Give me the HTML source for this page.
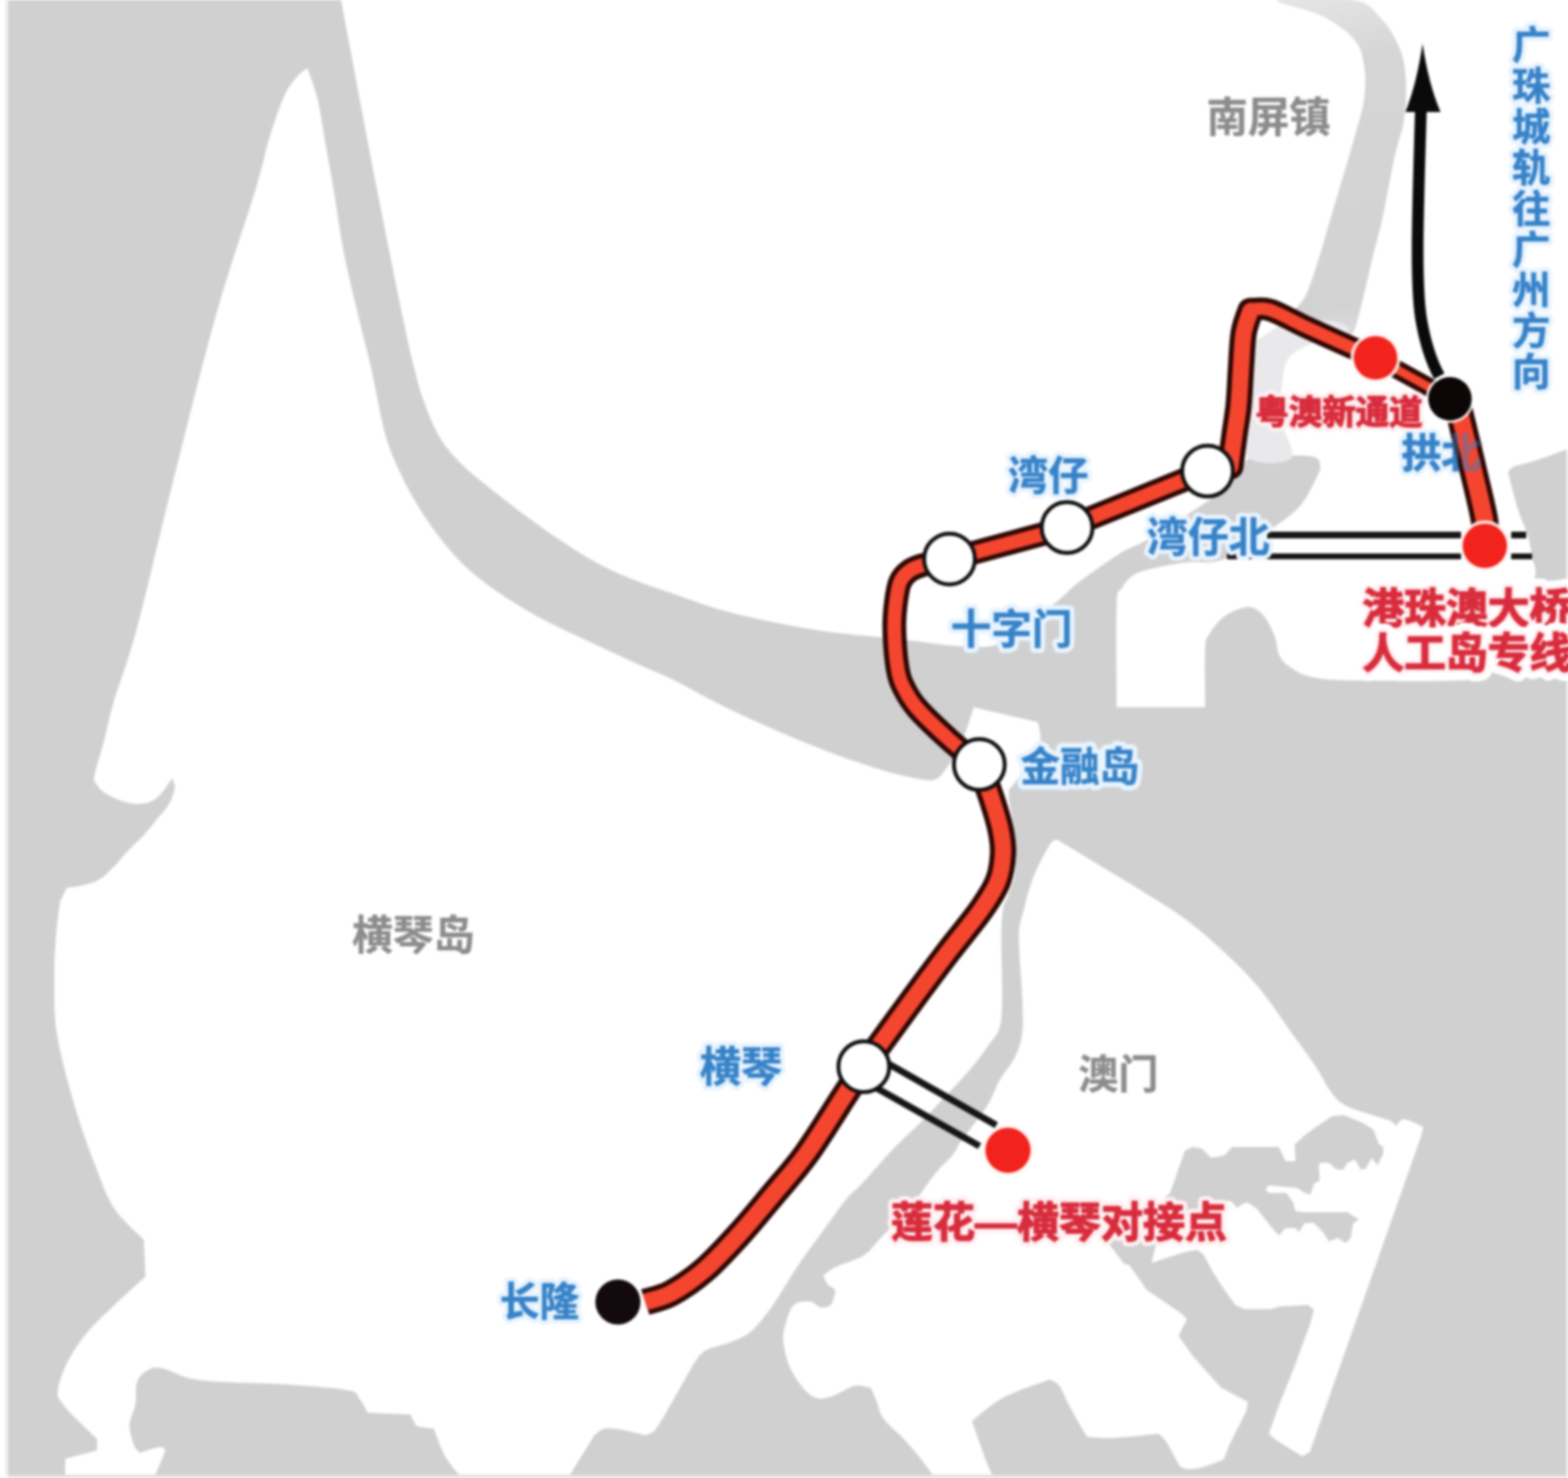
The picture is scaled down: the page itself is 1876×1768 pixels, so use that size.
<!DOCTYPE html>
<html lang="zh"><head><meta charset="utf-8"><title>珠海城轨延长线示意图</title>
<style>
html,body{margin:0;padding:0;background:#fff}
body{width:1876px;height:1768px;overflow:hidden;font-family:"Liberation Sans","Noto Sans CJK SC",sans-serif}
svg{display:block;font-family:"Liberation Sans","Noto Sans CJK SC",sans-serif;font-weight:bold}
</style></head><body>
<svg width="1876" height="1768" viewBox="0 0 1876 1768" role="img" aria-label="珠海城轨延长线示意图">
<defs>
<filter id="soft" color-interpolation-filters="sRGB" filterUnits="userSpaceOnUse" x="0" y="0" width="1876" height="1768"><feGaussianBlur stdDeviation="1.45"/></filter>
<linearGradient id="rv" gradientUnits="userSpaceOnUse" x1="1560" y1="0" x2="1640" y2="400"><stop offset="0" stop-color="#e4e4e4"/><stop offset=".2" stop-color="#d5d5d5"/><stop offset=".9" stop-color="#d2d2d2"/><stop offset="1" stop-color="#dcdce0"/></linearGradient>
</defs>
<g filter="url(#soft)">
<rect width="1876" height="1768" fill="#fff"/>
<rect x="6" y="0" width="5" height="1764" fill="#eee"/>
<rect x="10" y="0" width="1864" height="1764" fill="#d0d0d0"/>
<rect x="10" y="1764" width="1866" height="4" fill="#e2e2e2"/>
<rect x="6" y="1764" width="4" height="4" fill="#f4f4f4"/>
<rect x="1874" y="537" width="2" height="1231" fill="#ececec"/>
<g fill="#fff">
<path d="M368 82C369.3 85.8 373.7 97.3 376 105C378.3 112.7 379.7 116.3 382 128C384.3 139.7 387.2 158.7 390 175C392.8 191.3 395.5 205.2 399 226C402.5 246.8 406.2 275.2 411 300C415.8 324.8 422.5 351.7 428 375C433.5 398.3 438.5 415.8 444 440C449.5 464.2 455.2 499 461 520C466.8 541 472.5 551.8 479 566C485.5 580.2 492.2 592.2 500 605C507.8 617.8 517.3 631.7 526 643C534.7 654.3 543 664 552 673C561 682 570 689.3 580 697C590 704.7 601.3 712.2 612 719C622.7 725.8 633.3 732.2 644 738C654.7 743.8 663.5 748 676 754C688.5 760 704.7 767.3 719 774C733.3 780.7 747.7 787.5 762 794C776.3 800.5 788 804.7 805 813C822 821.3 843.3 833.8 864 844C884.7 854.2 907.5 864.7 929 874C950.5 883.3 971.5 892 993 900C1014.5 908 1040 916.7 1058 922C1076 927.3 1090.7 930.3 1101 932C1111.3 933.7 1114.7 934.3 1120 932C1125.3 929.7 1128 925 1133 918C1138 911 1144.7 902 1150 890C1155.3 878 1162.5 853.3 1165 846L1242 864C1242.2 868.7 1247.5 880.2 1243 892C1238.5 903.8 1221 925.3 1215 935C1209 944.7 1207.3 940.5 1207 950C1206.7 959.5 1211.7 977 1213 992C1214.3 1007 1216 1027.2 1215 1040C1214 1052.8 1209.5 1061 1207 1069C1204.5 1077 1201.5 1079.5 1200 1088C1198.5 1096.5 1198.2 1102.7 1198 1120C1197.8 1137.3 1199.3 1173.8 1199 1192C1198.7 1210.2 1198.7 1219.3 1196 1229C1193.3 1238.7 1188.2 1242.5 1183 1250C1177.8 1257.5 1172 1265.5 1165 1274C1158 1282.5 1151.7 1289.5 1141 1301C1130.3 1312.5 1113 1330.8 1101 1343C1089 1355.2 1080.3 1362.2 1069 1374C1057.7 1385.8 1042.3 1404 1033 1414C1023.7 1424 1020.2 1425.5 1013 1434C1005.8 1442.5 999.5 1452 990 1465C980.5 1478 965.3 1498.3 956 1512C946.7 1525.7 940.5 1537 934 1547C927.5 1557 923.2 1564.2 917 1572C910.8 1579.8 904.3 1588.3 897 1594C889.7 1599.7 882 1602.3 873 1606C864 1609.7 850.3 1611.5 843 1616C835.7 1620.5 831.3 1630.2 829 1633C825.3 1639.5 814.3 1659.3 807 1672C799.7 1684.7 790.8 1701.5 785 1709C779.2 1716.5 774.2 1715.7 772 1717C767.2 1715.8 751.2 1711.3 743 1710C734.8 1708.7 728.3 1707.8 723 1709C717.7 1710.2 713 1715.7 711 1717L682 1764L78 1764L78 1745L116 1735L116 1721C110.7 1715.8 91.8 1698.3 84 1690C76.2 1681.7 71.5 1674.2 69 1671C69.3 1668.2 68.7 1661.7 71 1654C73.3 1646.3 77.3 1635.2 83 1625C88.7 1614.8 96 1603.7 105 1593C114 1582.3 125.5 1572 137 1561C148.5 1550 167.8 1532.7 174 1527L172 1483C166.2 1476.8 146.5 1460.3 137 1446C127.5 1431.7 123 1417.7 115 1397C107 1376.3 96.8 1348.8 89 1322C81.2 1295.2 72 1261.7 68 1236C64 1210.3 65.2 1187.3 65 1168C64.8 1148.7 66.3 1131.3 67 1120C67.7 1108.7 68.2 1107 69 1100C69.8 1093 71.5 1081.7 72 1078L80 1062C83.2 1061.5 92.5 1060.7 99 1059C105.5 1057.3 112.8 1055.7 119 1052C125.2 1048.3 130 1043 136 1037C142 1031 149 1022.3 155 1016C161 1009.7 166.7 1004.8 172 999C177.3 993.2 182 987.2 187 981C192 974.8 198.3 968.3 202 962C205.7 955.7 208.3 948.2 209 943C209.7 937.8 206.5 933 206 931C203.8 934 197.3 944.3 193 949C188.7 953.7 185.3 956.9 180 959C174.7 961.1 167.7 962 161 961.5C154.3 961 146.5 958.6 140 956C133.5 953.4 126.7 949.8 122 946C117.3 942.2 113.7 935.2 112 933C112.7 930.2 113.8 924.2 116 916C118.2 907.8 121.7 896.7 125 884C128.3 871.3 129.5 862.2 136 840C142.5 817.8 152.3 794.3 164 751C175.7 707.7 190.2 642.7 206 580C221.8 517.3 242.3 434 259 375C275.7 316 295.5 260.8 306 226C316.5 191.2 316.3 184.5 322 166C327.7 147.5 334.2 127.7 340 115C345.8 102.3 352.3 95.5 357 90C361.7 84.5 366.2 83.3 368 82Z"/>
<path d="M408 0C415.2 37.7 438.7 162.7 451 226C463.3 289.3 474.7 344.7 482 380C489.3 415.3 490.8 421.3 495 438C499.2 454.7 501.8 465.8 507 480C512.2 494.2 518.5 510.5 526 523C533.5 535.5 541.3 544.3 552 555C562.7 565.7 576.5 576.2 590 587C603.5 597.8 618.7 609.5 633 620C647.3 630.5 661.7 640.7 676 650C690.3 659.3 704.7 668.5 719 676C733.3 683.5 747.7 689.3 762 695C776.3 700.7 788 704.2 805 710C822 715.8 843.3 724.2 864 730C884.7 735.8 907.5 740.7 929 745C950.5 749.3 972.7 753.2 993 756C1013.3 758.8 1035.2 760.3 1051 762C1066.8 763.7 1071.2 764.2 1088 766C1104.8 767.8 1133.3 772.7 1152 773C1170.7 773.3 1181.3 776.8 1200 768C1218.7 759.2 1249 731.8 1264 720C1279 708.2 1277.3 706.7 1290 697C1302.7 687.3 1326.7 670.3 1340 662C1353.3 653.7 1356.2 655 1370 647C1383.8 639 1407.2 624.3 1423 614C1438.8 603.7 1455.2 593.2 1465 585C1474.8 576.8 1477.5 570.8 1482 565C1486.5 559.2 1488.5 553.2 1492 550C1495.5 546.8 1501.2 546.7 1503 546C1514.2 546 1557.2 543.5 1570 546C1582.8 548.5 1578.3 558.5 1580 561C1576.3 567.8 1567.2 590.5 1558 602C1548.8 613.5 1540.7 618.8 1525 630C1509.3 641.2 1482 661.8 1464 669C1446 676.2 1434 670.3 1417 673C1400 675.7 1374.5 679.8 1362 685C1349.5 690.2 1346.3 697.5 1342 704C1337.7 710.5 1337 700.3 1336 724C1335 747.7 1336 825.7 1336 846L1442 846C1442 834.2 1441 789.8 1442 775C1443 760.2 1444.3 763.2 1448 757C1451.7 750.8 1458 742.8 1464 738C1470 733.2 1478.2 729.8 1484 728C1489.8 726.2 1494.2 725.3 1499 727C1503.8 728.7 1508.7 732.3 1513 738C1517.3 743.7 1522 753.2 1525 761C1528 768.8 1527.7 778.7 1531 785C1534.3 791.3 1538.5 794.8 1545 799C1551.5 803.2 1557.5 807.5 1570 810C1582.5 812.5 1588 813.5 1620 814C1652 814.5 1735 815.7 1762 813C1789 810.3 1775.7 806.8 1782 798C1788.3 789.2 1791.2 777.3 1800 760C1808.8 742.7 1829.5 709.5 1835 694C1840.5 678.5 1834.2 675.8 1833 667C1831.8 658.2 1830.7 650.2 1828 641C1825.3 631.8 1820.7 623.5 1817 612C1813.3 600.5 1808 580 1806 572C1804 564 1804.2 566.3 1805 564C1805.8 561.7 1808.7 559.3 1811 558C1813.3 556.7 1814.2 557.3 1819 556C1823.8 554.7 1830.5 553.2 1840 550C1849.5 546.8 1870 539.2 1876 537L1876 0L408 0Z"/>
<path d="M1264 1004C1272.8 1009.3 1299.7 1025.5 1317 1036C1334.3 1046.5 1351 1056.3 1368 1067C1385 1077.7 1402 1087.2 1419 1100C1436 1112.8 1455 1129.8 1470 1144C1485 1158.2 1496.2 1169.3 1509 1185C1521.8 1200.7 1536.3 1223.2 1547 1238C1557.7 1252.8 1565.3 1262.5 1573 1274C1580.7 1285.5 1586.7 1298.8 1593 1307C1599.3 1315.2 1601.7 1318.2 1611 1323C1620.3 1327.8 1640.2 1333 1649 1336C1657.8 1339 1660.5 1339.2 1664 1341C1667.5 1342.8 1669 1346 1670 1347C1671.7 1345.7 1674.5 1338.8 1680 1339C1685.5 1339.2 1699.2 1346.5 1703 1348L1700 1360L1567 1737L1558 1742C1553.2 1739 1535.7 1728.5 1529 1724C1522.3 1719.5 1519.8 1716.5 1518 1715L1464 1746C1459.2 1747.7 1443.2 1754.3 1435 1756C1426.8 1757.7 1419.8 1758 1415 1756C1410.2 1754 1409.3 1749.3 1406 1744C1402.7 1738.7 1398.3 1728.8 1395 1724C1391.7 1719.2 1387.5 1716.5 1386 1715C1377.3 1715.8 1348.2 1719.3 1334 1720C1319.8 1720.7 1306.5 1719.2 1301 1719C1299.2 1716 1293.8 1707.7 1290 1701C1286.2 1694.3 1281.8 1686.3 1278 1679C1274.2 1671.7 1270.7 1661.8 1267 1657C1263.3 1652.2 1257.8 1651.2 1256 1650C1246.7 1653.7 1215.5 1663.7 1200 1672C1184.5 1680.3 1169.2 1695.3 1163 1700C1165.8 1708 1176 1737.3 1180 1748C1184 1758.700 1185.800 1761.300 1187 1764L1116 1764C1113.3 1760.5 1105.8 1750.2 1100 1743C1094.2 1735.8 1088.2 1728.7 1081 1721C1073.8 1713.3 1062.3 1704.3 1057 1697C1051.7 1689.7 1051.5 1683.2 1049 1677C1046.5 1670.8 1043.2 1662.8 1042 1660C1038.7 1659.7 1029.7 1656.3 1022 1658C1014.3 1659.7 1003.7 1667.7 996 1670C988.3 1672.3 982.2 1674 976 1672C969.8 1670 964.3 1664.5 959 1658C953.7 1651.5 947.7 1642.5 944 1633C940.3 1623.5 937.3 1610.3 937 1601C936.7 1591.7 939.7 1583.8 942 1577C944.3 1570.2 946.5 1563.3 951 1560C955.5 1556.7 964 1556.3 969 1557C974 1557.7 979 1562.8 981 1564C983 1563.7 990.2 1564.2 993 1562C995.8 1559.8 997 1554.2 998 1551C999 1547.8 1000.3 1545.5 999 1543C997.7 1540.5 992.3 1538.8 990 1536C987.7 1533.2 985.8 1527.7 985 1526C987.3 1524.3 991 1520 999 1516C1007 1512 1024.5 1507.2 1033 1502C1041.5 1496.8 1042.5 1492.8 1050 1485C1057.5 1477.2 1069.8 1464 1078 1455C1086.2 1446 1092.3 1439.3 1099 1431C1105.7 1422.7 1111 1413.5 1118 1405C1125 1396.5 1135.7 1386.7 1141 1380C1146.3 1373.3 1143.3 1374.5 1150 1365C1156.7 1355.5 1173.3 1335.2 1181 1323C1188.7 1310.8 1190.5 1301.7 1196 1292C1201.5 1282.3 1209.5 1274.3 1214 1265C1218.5 1255.7 1221.5 1248.2 1223 1236C1224.5 1223.8 1223.7 1211.3 1223 1192C1222.3 1172.7 1218.7 1137.3 1219 1120C1219.3 1102.7 1222.2 1099.7 1225 1088C1227.8 1076.3 1231 1062.7 1236 1050C1241 1037.3 1250.3 1019.7 1255 1012C1259.7 1004.3 1262.5 1005.3 1264 1004Z"/>
</g>
<g fill="#d0d0d0">
<path d="M186 1764L198 1735C196.8 1734.3 196.2 1730.5 191 1731C185.8 1731.5 171 1736.8 167 1738C165.8 1736.3 162 1733.7 160 1728C158 1722.3 154.7 1712 155 1704C155.3 1696 160.5 1688.5 162 1680C163.5 1671.5 161.5 1659.8 164 1653C166.5 1646.2 171.8 1641.7 177 1639C182.2 1636.3 184.7 1635 195 1637C205.3 1639 214.7 1647.8 239 1651C263.3 1654.2 311.5 1654 341 1656C370.5 1658 401.2 1660.2 416 1663C430.8 1665.8 426 1668.5 430 1673C434 1677.5 438.3 1687.2 440 1690L491 1692L498 1706L519 1709C521.2 1714.3 527 1731.8 532 1741C537 1750.2 546.2 1760.2 549 1764L186 1764Z"/>
<path d="M1418 1376L1427 1372L1438 1374L1449 1385L1465 1382L1474 1372L1530 1372L1538 1389L1550 1389L1549 1369L1561 1358L1579 1345L1594 1335L1608 1334L1630 1343L1643 1351L1650 1369L1655 1372L1655 1380L1648 1394L1641 1385L1634 1398L1628 1399L1621 1387L1612 1391L1607 1399L1599 1399L1590 1391L1579 1391L1578 1396L1579 1412L1572 1416L1568 1429L1561 1427L1552 1421L1518 1418L1514 1423L1518 1427L1539 1427L1547 1438L1550 1449L1561 1450L1612 1450L1626 1459L1619 1463L1616 1481L1610 1487L1601 1481L1590 1485L1583 1474L1572 1463L1561 1463L1554 1474L1550 1469L1538 1469L1530 1478L1523 1470L1514 1459L1503 1445L1492 1438L1485 1441L1480 1445L1474 1438L1469 1436L1440 1440L1400 1427Z"/>
<path d="M1331 1485L1372 1511L1380 1510L1416 1498L1433 1495L1440 1501L1452 1523L1465 1543L1478 1561L1489 1566L1521 1566L1530 1563L1565 1561L1572 1567L1567 1585L1549 1634L1531 1679L1518 1715L1500 1764L1464 1764L1464 1746L1471 1728L1491 1688L1493 1677L1461 1660L1427 1622L1410 1598L1420 1578L1413 1571L1372 1543Z"/>
<path d="M1418 1376L1400 1427L1352 1470L1326 1487L1345 1512L1376 1517L1385 1482L1420 1452L1469 1436L1440 1400Z"/>
</g>
<path d="M1528 0C1521.7 3.2 1566.7 11.2 1582 19C1597.3 26.8 1611.7 37.2 1620 47C1628.3 56.8 1630 66 1632 78C1634 90 1634 104.3 1632 119C1630 133.7 1624.3 150.2 1620 166C1615.7 181.8 1610.7 198.2 1606 214C1601.3 229.8 1596.7 245.2 1592 261C1587.3 276.8 1582.8 293.8 1578 309C1573.2 324.2 1568.5 339.3 1563 352C1557.5 364.7 1538.8 377 1545 385C1551.2 393 1587.8 397.7 1600 400C1612.2 402.3 1613.3 404.3 1618 399C1622.7 393.7 1624 383 1628 368C1632 353 1637.7 326.8 1642 309C1646.3 291.2 1649.7 280.8 1654 261C1658.3 241.2 1663.7 209.8 1668 190C1672.3 170.2 1677.7 157.8 1680 142C1682.3 126.2 1682.8 108.8 1682 95C1681.2 81.2 1679.7 70.8 1675 59C1670.3 47.2 1663.2 33.8 1654 24C1644.8 14.2 1641 4 1620 0C1599 -4 1534.3 -3.2 1528 0Z" fill="url(#rv)"/>
<path d="M1545 385C1530.3 387.8 1519.7 396.2 1512 402C1504.3 407.8 1501.7 403.7 1499 420C1496.3 436.3 1496.8 478.7 1496 500C1495.2 521.3 1485.8 540 1494 548C1502.2 556 1538.7 556 1545 548C1551.3 540 1533.8 514.7 1532 500C1530.2 485.3 1532.3 472 1534 460C1535.7 448 1535.7 436.3 1542 428C1548.3 419.7 1560.3 415 1572 410C1583.7 405 1607.3 402.2 1612 398C1616.7 393.8 1611.2 387.2 1600 385C1588.8 382.800 1559.700 382.200 1545 385Z" fill="#e9e9ec"/>
<g>
<text x="1677" y="559" font-size="47.5" textLength="95" fill="none" stroke="#e8f4ff" stroke-width="11" stroke-linejoin="round">拱北</text>
<text x="1677" y="559" font-size="47.5" textLength="95" fill="#3682c8" stroke="#3682c8" stroke-width="0.7" stroke-linejoin="round">拱北</text>
</g>
<g stroke="#151515" fill="none">
<path d="M1516 640H1748M1808 640H1826" stroke-width="8"/>
<path d="M1468 665.5H1748M1808 665.5H1833" stroke-width="7"/>
<path d="M1062 1272L1192 1346M1046 1300L1172 1371" stroke-width="8"/>
</g>
<path d="M1700 130C1697 238 1693 333 1700 380C1704 404 1711 430 1722 450" fill="none" stroke="#0a0a0a" stroke-width="14"/>
<path d="M1702 52Q1695 100 1681.500 134H1723.500Q1709 100 1702 52Z" fill="#0a0a0a"/>
<path d="M772 1557.5C777.2 1555.8 791.2 1553.4 803 1547C814.8 1540.6 829.5 1530.7 843 1519C856.5 1507.3 870.5 1491.8 884 1477C897.5 1462.2 910.5 1446.2 924 1430C937.5 1413.8 950.7 1399.8 965 1380C979.3 1360.2 998.7 1328.3 1010 1311C1021.3 1293.7 1029.2 1281.8 1033 1276" fill="none" stroke="#2e0804" stroke-width="32.0" stroke-linejoin="round"/>
<path d="M1033 1276C1037.2 1270.3 1047.5 1256.3 1058 1242C1068.5 1227.7 1083.2 1207.3 1096 1190C1108.8 1172.7 1122 1155 1135 1138C1148 1121 1164.2 1102 1174 1088C1183.8 1074 1189.7 1065.2 1194 1054C1198.3 1042.8 1199.5 1031.3 1200 1021C1200.5 1010.7 1199.3 1003.2 1197 992C1194.7 980.8 1190.2 966.8 1186 954C1181.8 941.2 1174.3 921.5 1172 915" fill="none" stroke="#2e0804" stroke-width="31.5" stroke-linejoin="round"/>
<path d="M1172 915C1166 910 1148.3 896.2 1136 885C1123.7 873.8 1107 858.2 1098 848C1089 837.8 1086 832 1082 824C1078 816 1076 812 1074 800C1072 788 1070.3 765.3 1070 752C1069.7 738.7 1070.8 729.3 1072 720C1073.2 710.7 1074.3 702.2 1077 696C1079.7 689.8 1083.5 686.3 1088 683C1092.5 679.7 1096 678.3 1104 676C1112 673.7 1130.7 670.2 1136 669" fill="none" stroke="#2e0804" stroke-width="28.5" stroke-linejoin="round"/>
<path d="M1136 669L1277 631" fill="none" stroke="#2e0804" stroke-width="28.5" stroke-linejoin="round"/>
<path d="M1277 631L1444 563" fill="none" stroke="#2e0804" stroke-width="28.5" stroke-linejoin="round"/>
<path d="M1472 558C1472.8 551.7 1475.3 532.3 1477 520C1478.7 507.7 1480.7 498 1482 484C1483.3 470 1484 450.7 1485 436C1486 421.3 1486 407 1488 396C1490 385 1495.5 374.3 1497 370C1500.8 370.2 1509.5 367.7 1520 371C1530.5 374.3 1544.5 382.8 1560 390C1575.5 397.2 1598.7 407.7 1613 414C1627.3 420.3 1640.5 425.7 1646 428" fill="none" stroke="#2e0804" stroke-width="27.0" stroke-linejoin="round"/>
<path d="M1472 558C1472.8 551.7 1475.3 532.3 1477 520C1478.7 507.7 1480.7 498 1482 484C1483.3 470 1484 450.3 1485 436C1486 421.7 1486.2 408.7 1488 398C1489.8 387.3 1494.7 376.3 1496 372" fill="none" stroke="#2e0804" stroke-width="31.5" stroke-linejoin="round" stroke-linecap="round"/>
<path d="M1646 428L1735 477" fill="none" stroke="#2e0804" stroke-width="22.0" stroke-linejoin="round"/>
<path d="M1742 477C1743.2 481.7 1745.7 491.2 1749 505C1752.3 518.8 1757.5 540.5 1762 560C1766.5 579.5 1773.5 606.7 1776 622C1778.5 637.3 1776.8 647 1777 652" fill="none" stroke="#2e0804" stroke-width="33.0" stroke-linejoin="round"/>
<path d="M772 1557.5C777.2 1555.8 791.2 1553.4 803 1547C814.8 1540.6 829.5 1530.7 843 1519C856.5 1507.3 870.5 1491.8 884 1477C897.5 1462.2 910.5 1446.2 924 1430C937.5 1413.8 950.7 1399.8 965 1380C979.3 1360.2 998.7 1328.3 1010 1311C1021.3 1293.7 1029.2 1281.8 1033 1276" fill="none" stroke="#f4452f" stroke-width="20.0" stroke-linejoin="round"/>
<path d="M1033 1276C1037.2 1270.3 1047.5 1256.3 1058 1242C1068.5 1227.7 1083.2 1207.3 1096 1190C1108.8 1172.7 1122 1155 1135 1138C1148 1121 1164.2 1102 1174 1088C1183.8 1074 1189.7 1065.2 1194 1054C1198.3 1042.8 1199.5 1031.3 1200 1021C1200.5 1010.7 1199.3 1003.2 1197 992C1194.7 980.8 1190.2 966.8 1186 954C1181.8 941.2 1174.3 921.5 1172 915" fill="none" stroke="#f4452f" stroke-width="19.5" stroke-linejoin="round"/>
<path d="M1172 915C1166 910 1148.3 896.2 1136 885C1123.7 873.8 1107 858.2 1098 848C1089 837.8 1086 832 1082 824C1078 816 1076 812 1074 800C1072 788 1070.3 765.3 1070 752C1069.7 738.7 1070.8 729.3 1072 720C1073.2 710.7 1074.3 702.2 1077 696C1079.7 689.8 1083.5 686.3 1088 683C1092.5 679.7 1096 678.3 1104 676C1112 673.7 1130.7 670.2 1136 669" fill="none" stroke="#f4452f" stroke-width="16.5" stroke-linejoin="round"/>
<path d="M1136 669L1277 631" fill="none" stroke="#f4452f" stroke-width="16.5" stroke-linejoin="round"/>
<path d="M1277 631L1444 563" fill="none" stroke="#f4452f" stroke-width="16.5" stroke-linejoin="round"/>
<path d="M1472 558C1472.8 551.7 1475.3 532.3 1477 520C1478.7 507.7 1480.7 498 1482 484C1483.3 470 1484 450.7 1485 436C1486 421.3 1486 407 1488 396C1490 385 1495.5 374.3 1497 370C1500.8 370.2 1509.5 367.7 1520 371C1530.5 374.3 1544.5 382.8 1560 390C1575.5 397.2 1598.7 407.7 1613 414C1627.3 420.3 1640.5 425.7 1646 428" fill="none" stroke="#f4452f" stroke-width="15.0" stroke-linejoin="round"/>
<path d="M1472 558C1472.8 551.7 1475.3 532.3 1477 520C1478.7 507.7 1480.7 498 1482 484C1483.3 470 1484 450.3 1485 436C1486 421.7 1486.2 408.7 1488 398C1489.8 387.3 1494.7 376.3 1496 372" fill="none" stroke="#f4452f" stroke-width="19.5" stroke-linejoin="round" stroke-linecap="round"/>
<path d="M1646 428L1735 477" fill="none" stroke="#f4452f" stroke-width="10.0" stroke-linejoin="round"/>
<path d="M1742 477C1743.2 481.7 1745.7 491.2 1749 505C1752.3 518.8 1757.5 540.5 1762 560C1766.5 579.5 1773.5 606.7 1776 622C1778.5 637.3 1776.8 647 1777 652" fill="none" stroke="#f4452f" stroke-width="21.0" stroke-linejoin="round"/>
<circle cx="1033.5" cy="1276" r="30.4" fill="#fff" stroke="#101010" stroke-width="4.7"/>
<circle cx="1171.7" cy="914.5" r="30.4" fill="#fff" stroke="#101010" stroke-width="4.7"/>
<circle cx="1136" cy="668.7" r="30.4" fill="#fff" stroke="#101010" stroke-width="4.7"/>
<circle cx="1276.7" cy="631" r="30.4" fill="#fff" stroke="#101010" stroke-width="4.7"/>
<circle cx="1444.7" cy="563.5" r="30.4" fill="#fff" stroke="#101010" stroke-width="4.7"/>
<circle cx="739.3" cy="1557.5" r="30" fill="#fff" opacity=".9"/><circle cx="739.3" cy="1557.5" r="27" fill="#120a0c"/>
<circle cx="1734.8" cy="477" r="29" fill="#fff" opacity=".9"/><circle cx="1734.8" cy="477" r="26" fill="#0c0606"/>
<circle cx="1645.7" cy="428" r="30" fill="#fff4f2" opacity=".9"/><circle cx="1645.7" cy="428" r="26" fill="#f2221c"/>
<circle cx="1776.5" cy="653" r="30.5" fill="#fff4f2" opacity=".9"/><circle cx="1776.5" cy="653" r="26.5" fill="#f2221c"/>
<circle cx="1206" cy="1376" r="31" fill="#fff4f2" opacity=".9"/><circle cx="1206" cy="1376" r="27" fill="#f2221c"/>
<g opacity="0.45">
<text x="1677" y="559" font-size="47.5" textLength="95" fill="#3682c8" stroke="#3682c8" stroke-width="1.6" stroke-linejoin="round">拱北</text>
</g>
<g>
<text x="1443.5" y="157.5" font-size="49.5" textLength="148.5" fill="none" stroke="#fff" stroke-width="8" stroke-linejoin="round">南屏镇</text>
<text x="1443.5" y="157.5" font-size="49.5" textLength="148.5" fill="#8b8b8b" stroke="#8b8b8b" stroke-width="0.3" stroke-linejoin="round">南屏镇</text>
</g>
<g>
<text font-size="46" text-anchor="middle" fill="none" stroke="#e8f4ff" stroke-width="11" stroke-linejoin="round"><tspan x="1832" y="70">广</tspan><tspan x="1832" y="119">珠</tspan><tspan x="1832" y="168">城</tspan><tspan x="1832" y="217">轨</tspan><tspan x="1832" y="266">往</tspan><tspan x="1832" y="315">广</tspan><tspan x="1832" y="363">州</tspan><tspan x="1832" y="412">方</tspan><tspan x="1832" y="461">向</tspan></text>
<text font-size="46" text-anchor="middle" fill="#3682c8" stroke="#3682c8" stroke-width="0.7" stroke-linejoin="round"><tspan x="1832" y="70">广</tspan><tspan x="1832" y="119">珠</tspan><tspan x="1832" y="168">城</tspan><tspan x="1832" y="217">轨</tspan><tspan x="1832" y="266">往</tspan><tspan x="1832" y="315">广</tspan><tspan x="1832" y="363">州</tspan><tspan x="1832" y="412">方</tspan><tspan x="1832" y="461">向</tspan></text>
</g>
<g>
<text x="1502" y="507" font-size="40" textLength="200" fill="none" stroke="#fff0f2" stroke-width="11" stroke-linejoin="round">粤澳新通道</text>
<text x="1502" y="507" font-size="40" textLength="200" fill="#d82c3c" stroke="#d82c3c" stroke-width="1.6" stroke-linejoin="round">粤澳新通道</text>
</g>
<g>
<text x="1206" y="586" font-size="48" textLength="96" fill="none" stroke="#e8f4ff" stroke-width="11" stroke-linejoin="round">湾仔</text>
<text x="1206" y="586" font-size="48" textLength="96" fill="#3682c8" stroke="#3682c8" stroke-width="0.7" stroke-linejoin="round">湾仔</text>
</g>
<g>
<text x="1372" y="660" font-size="49" textLength="147" fill="none" stroke="#e8f4ff" stroke-width="11" stroke-linejoin="round">湾仔北</text>
<text x="1372" y="660" font-size="49" textLength="147" fill="#3682c8" stroke="#3682c8" stroke-width="0.7" stroke-linejoin="round">湾仔北</text>
</g>
<g>
<text x="1137.5" y="770" font-size="48.5" textLength="145.5" fill="none" stroke="#e8f4ff" stroke-width="12" stroke-linejoin="round">十字门</text>
<text x="1137.5" y="770" font-size="48.5" textLength="145.5" fill="#3682c8" stroke="#3682c8" stroke-width="0.7" stroke-linejoin="round">十字门</text>
</g>
<g>
<text x="1221" y="934" font-size="47.3" textLength="142" fill="none" stroke="#e8f4ff" stroke-width="13" stroke-linejoin="round">金融岛</text>
<text x="1221" y="934" font-size="47.3" textLength="142" fill="#3682c8" stroke="#3682c8" stroke-width="0.7" stroke-linejoin="round">金融岛</text>
</g>
<g>
<text x="1630" y="746" font-size="50" textLength="250" fill="none" stroke="#fff" stroke-width="22" stroke-linejoin="round">港珠澳大桥</text>
<text x="1630" y="746" font-size="50" textLength="250" fill="none" stroke="#fff0f2" stroke-width="9" stroke-linejoin="round">港珠澳大桥</text>
<text x="1630" y="746" font-size="50" textLength="250" fill="#d82c3c" stroke="#d82c3c" stroke-width="1.6" stroke-linejoin="round">港珠澳大桥</text>
</g>
<g>
<text x="1630" y="799" font-size="50" textLength="250" fill="none" stroke="#fff" stroke-width="22" stroke-linejoin="round">人工岛专线</text>
<text x="1630" y="799" font-size="50" textLength="250" fill="none" stroke="#fff0f2" stroke-width="9" stroke-linejoin="round">人工岛专线</text>
<text x="1630" y="799" font-size="50" textLength="250" fill="#d82c3c" stroke="#d82c3c" stroke-width="1.6" stroke-linejoin="round">人工岛专线</text>
</g>
<g>
<text x="421" y="1136" font-size="49" textLength="147" fill="none" stroke="#fff" stroke-width="8" stroke-linejoin="round">横琴岛</text>
<text x="421" y="1136" font-size="49" textLength="147" fill="#8b8b8b" stroke="#8b8b8b" stroke-width="0.3" stroke-linejoin="round">横琴岛</text>
</g>
<g>
<text x="837" y="1294" font-size="49.5" textLength="99" fill="none" stroke="#e8f4ff" stroke-width="11" stroke-linejoin="round">横琴</text>
<text x="837" y="1294" font-size="49.5" textLength="99" fill="#3682c8" stroke="#3682c8" stroke-width="0.7" stroke-linejoin="round">横琴</text>
</g>
<g>
<text x="1290" y="1302" font-size="48" textLength="96" fill="none" stroke="#fff" stroke-width="8" stroke-linejoin="round">澳门</text>
<text x="1290" y="1302" font-size="48" textLength="96" fill="#8b8b8b" stroke="#8b8b8b" stroke-width="0.3" stroke-linejoin="round">澳门</text>
</g>
<g>
<text x="1066" y="1480" font-size="50.2" textLength="402" fill="none" stroke="#fff0f2" stroke-width="12" stroke-linejoin="round">莲花—横琴对接点</text>
<text x="1066" y="1480" font-size="50.2" textLength="402" fill="#d82c3c" stroke="#d82c3c" stroke-width="1.6" stroke-linejoin="round">莲花—横琴对接点</text>
</g>
<g>
<text x="598" y="1574" font-size="47.5" textLength="95" fill="none" stroke="#e8f4ff" stroke-width="11" stroke-linejoin="round">长隆</text>
<text x="598" y="1574" font-size="47.5" textLength="95" fill="#3682c8" stroke="#3682c8" stroke-width="0.7" stroke-linejoin="round">长隆</text>
</g>
</g>
</svg>
</body></html>
